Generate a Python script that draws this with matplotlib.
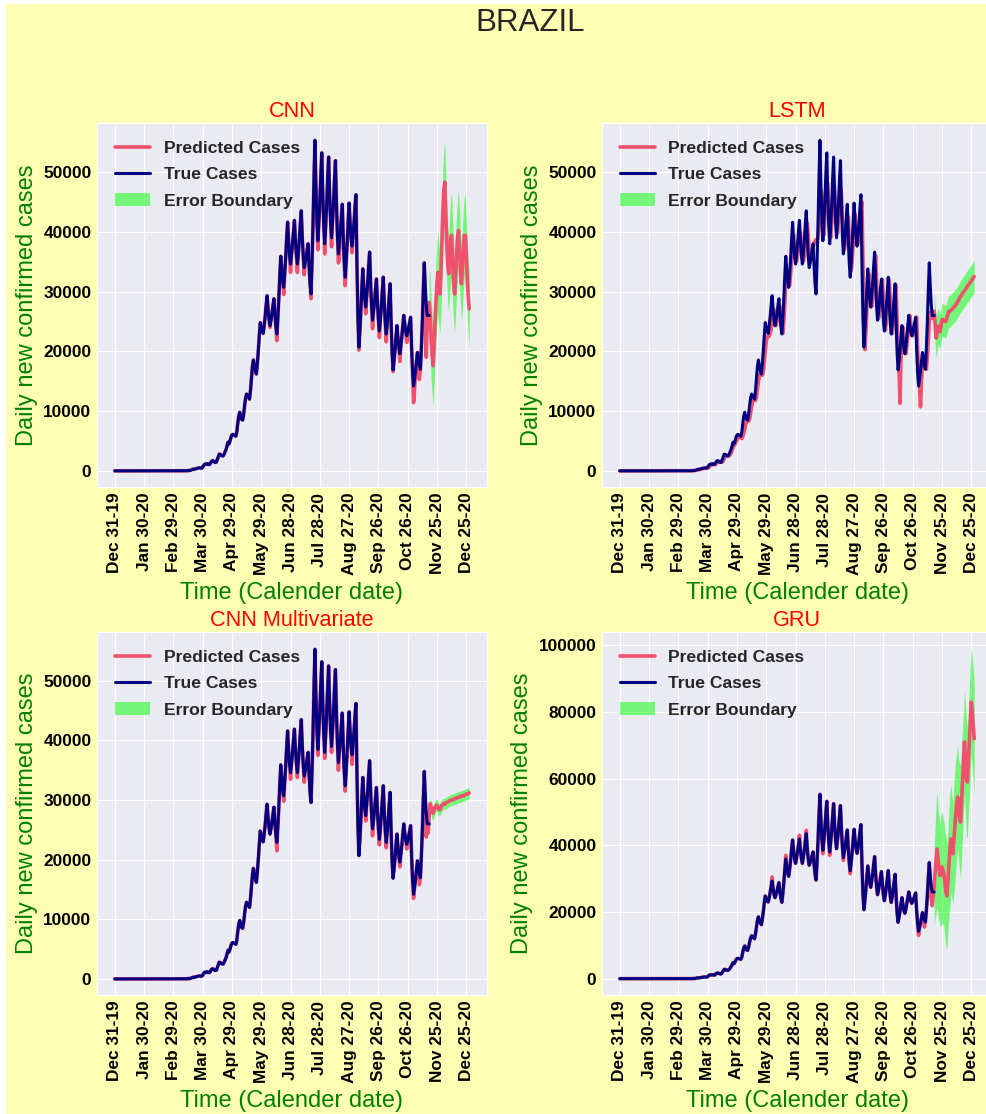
import numpy as np
import matplotlib.pyplot as plt
import seaborn as sns

# ---------------- data ----------------
# x axis: day index starting at Dec 31 2019
tick_days = [0, 30, 60, 90, 120, 150, 180, 210, 240, 270, 300, 330, 360]
tick_labels = ['Dec 31-19', 'Jan 30-20', 'Feb 29-20', 'Mar 30-20', 'Apr 29-20',
               'May 29-20', 'Jun 28-20', 'Jul 28-20', 'Aug 27-20', 'Sep 26-20',
               'Oct 26-20', 'Nov 25-20', 'Dec 25-20']

# true daily new cases, days 0..322 (rows are weeks starting on Sunday)
true_cases = (
    [0] * 54 +
    [0, 0, 0, 1, 0, 0, 1] +                                   # day 54
    [0, 0, 1, 4, 0, 5, 6] +                                   # day 61
    [6, 6, 9, 18, 25, 21, 23] +                               # day 68
    [79, 34, 57, 137, 193, 283, 224] +                        # day 75
    [300, 350, 400, 450, 480, 500, 480] +                     # day 82
    [450, 600, 900, 1100, 1150, 1100, 1200] +                 # day 89
    [1100, 1050, 1300, 1600, 1700, 1650, 1500] +              # day 96
    [1400, 1450, 1900, 2400, 2800, 2750, 2600] +              # day 103
    [2500, 2500, 2800, 3200, 3600, 4200, 4800] +              # day 110
    [4500, 5000, 5600, 6000, 6100, 6000, 5900] +              # day 117
    [5800, 6500, 8000, 9200, 9800, 9000, 8600] +              # day 124
    [8500, 9500, 11000, 12200, 12850, 12500, 12300] +         # day 131
    [12000, 13500, 15500, 17500, 18550, 17500, 16800] +       # day 138
    [16200, 17900, 20100, 22650, 24800, 24000, 23350] +       # day 145
    [23000, 24300, 25800, 27700, 29300, 27100, 25300] +       # day 152
    [24300, 25200, 26300, 27700, 28800, 26100, 24100] +       # day 159
    [22900, 25500, 28800, 32700, 35900, 33600, 31700] +       # day 166
    [30700, 32900, 35600, 38900, 41600, 38500, 36000] +       # day 173
    [34600, 36100, 37900, 40100, 41900, 38600, 36100] +       # day 180
    [34600, 36400, 38600, 41300, 43500, 39200, 35900] +       # day 187
    [34000, 34800, 35800, 37000, 38000, 34200, 31300] +       # day 194
    [29600, 34700, 41200, 48900, 55300, 47700, 41900] +       # day 201
    [38500, 41400, 45100, 49500, 53200, 46400, 41000] +       # day 208
    [38000, 40900, 44500, 48900, 52500, 46400, 41700] +       # day 215
    [39000, 41600, 44800, 48700, 51900, 44900, 39400] +       # day 222
    [36300, 38000, 40000, 42500, 44600, 39100, 34800] +       # day 229
    [32400, 34900, 38000, 41700, 44800, 41600, 39000] +       # day 236
    [37600, 39300, 41500, 44100, 46200, 34700, 25800] +       # day 243
    [20700, 23300, 26600, 30500, 33800, 30900, 28700] +       # day 250
    [27400, 29200, 31500, 34300, 36600, 31500, 27500] +       # day 257
    [25200, 26600, 28300, 30400, 32100, 28200, 25100] +       # day 264
    [23400, 25200, 27500, 30200, 32400, 28100, 24800] +       # day 271
    [22900, 24600, 26700, 29200, 31300, 24800, 19800] +       # day 278
    [16900, 18400, 20200, 22500, 24300, 22200, 20500] +       # day 285
    [19600, 20900, 22500, 24400, 26000, 24500, 23300] +       # day 292
    [22600, 23200, 24000, 24900, 25700, 20500, 16500] +       # day 299
    [14200, 15300, 16700, 18400, 19800, 18500, 17600] +       # day 306
    [17000, 20600, 25000, 30400, 34800, 30800, 27800] +       # day 313
    [26000, 26000, 26000]                                     # day 320
)

# in-sample fit: where the red line shows below/above the blue one (day: value)
cnn_dips = {159: 24000, 166: 21800, 173: 29500, 180: 33200, 187: 33200, 194: 32800,
            201: 28800, 208: 37000, 215: 36300, 222: 37500, 229: 34800, 230: 35500,
            236: 31000, 243: 36500, 250: 20200, 257: 26300, 264: 23800, 271: 22300,
            278: 21600, 285: 16600, 292: 18300, 299: 21500, 306: 11400, 307: 13500,
            311: 15500, 312: 15300, 318: 26800, 319: 19000, 320: 25000, 321: 24000}
cnnm_dips = {166: 21500, 173: 29800, 180: 33500, 187: 33800, 194: 33000, 208: 37500,
             215: 37000, 222: 38000, 229: 35000, 236: 31500, 243: 36000, 257: 26500,
             264: 24000, 271: 22500, 278: 22000, 292: 18800, 299: 21800, 306: 13500,
             312: 15800, 318: 28000, 319: 23800, 320: 25500, 321: 24500}
gru_dips = {156: 30500, 170: 37000, 184: 43000, 191: 44500, 208: 37500, 215: 37000,
            229: 35500, 236: 31500, 306: 13000, 312: 15500, 318: 27000, 319: 24000,
            320: 21900, 321: 25000}

# LSTM fit lags the true curve, days 0..321
lstm_fit = (
    [0] * 54 +
    [0, 0, 0, 0, 0, 0, 0] +
    [0, 0, 0, 1, 2, 2, 3] +
    [4, 5, 6, 8, 12, 16, 20] +
    [25, 40, 50, 70, 100, 150, 200] +
    [200, 260, 300, 340, 380, 420, 450] +
    [470, 460, 520, 700, 900, 1000, 1080] +
    [1100, 1080, 1050, 1200, 1400, 1550, 1600] +
    [1550, 1450, 1450, 1700, 2100, 2450, 2600] +
    [2600, 2500, 2500, 2700, 3000, 3400, 3900] +
    [4300, 4400, 4800, 5200, 5600, 5900, 5900] +
    [5500, 5400, 5700, 6300, 7000, 7800, 8300] +
    [8400, 8300, 8700, 9700, 10700, 11500, 12000] +
    [12000, 11800, 12300, 13600, 15000, 15800, 16300] +
    [16200, 16000, 16500, 18000, 20000, 21500, 22500] +
    [22500, 22500, 23000, 23600, 25500, 27000, 27000] +
    [25000, 24300, 25000, 26000, 27200, 27500, 26000] +
    [24000, 23000, 25000, 28000, 31500, 33500, 33000] +
    [31500, 31000, 33000, 35500, 38500, 39500, 37500] +
    [35500, 35000, 36000, 37500, 39500, 40000, 38000] +
    [36000, 35000, 36000, 38000, 40500, 41500, 39500] +
    [36500, 35000, 35500, 36500, 37500, 38000, 38500] +
    [38700, 38500, 39000, 40400, 44000, 47000, 46000] +
    [42000, 39500, 42000, 45500, 48500, 48000, 44000] +
    [40500, 39000, 41500, 45000, 48000, 47500, 44000] +
    [41000, 39800, 42000, 45000, 47500, 46500, 42500] +
    [39000, 37000, 38000, 40000, 42000, 42500, 39000] +
    [35500, 33500, 35000, 38000, 41500, 43000, 41000] +
    [39500, 38000, 39000, 41500, 44000, 45000, 35500] +
    [26500, 20300, 23000, 26500, 30500, 33000, 31000] +
    [29000, 27500, 29000, 31500, 34000, 36000, 32000] +
    [27500, 25500, 26500, 28300, 30500, 32000, 28500] +
    [25500, 23500, 25000, 27500, 30000, 32000, 28500] +
    [25000, 23000, 24500, 26700, 29200, 31000, 25000] +
    [20000, 16900, 11300, 19000, 22000, 24000, 22500] +
    [20500, 19600, 20900, 22500, 24400, 26000, 24500] +
    [23300, 22600, 23200, 24000, 24900, 25700, 20500] +
    [16500, 14200, 10700, 15000, 18000, 19500, 18500] +
    [17600, 17000, 19000, 22000, 25000, 26500, 26000] +
    [25500, 26400]
)

# forecasts, days 322..363, and the half width of the error band
cnn_forecast = [28200, 26000, 22000, 19500, 17600, 21000, 25000, 28500, 31500, 33200,
                31000, 29600, 33000, 38000, 43500, 47000, 48300, 43000, 38000, 34500,
                33000, 36000, 39000, 39400, 35000, 31500, 29600, 32500, 36000, 39000,
                40200, 37000, 34000, 31300, 34000, 37000, 39400, 39400, 36000, 32000,
                29000, 27100]
cnn_err = [6200, 6500, 6800, 6600, 6700, 6500, 6400, 6800, 7000, 6900, 6600, 6500,
           6700, 6900, 7000, 6800, 6700, 6600, 6500, 6400, 6500, 6700, 6900, 7000,
           6800, 6600, 6500, 6400, 6600, 6800, 6700, 6500, 6300, 6400, 6600, 6800,
           6700, 6500, 6400, 6300, 6400, 6400]

lstm_forecast = [26700, 24500, 22200, 23200, 24200, 23800, 23300, 24300, 25300, 25300,
                 25100, 25000, 25000, 25600, 26200, 26700, 26700, 26800, 27000, 27200,
                 27400, 27500, 27800, 28000, 28300, 28600, 28900, 29200, 29400, 29700,
                 29900, 30100, 30400, 30600, 30900, 31100, 31300, 31600, 31800, 32000,
                 32300, 32500]
lstm_err = [3000, 3200, 3400, 3300, 3100, 3000, 2900, 2800, 2800, 2700, 2700, 2700,
            2700, 2700, 2650, 2650, 2650, 2650, 2650, 2650, 2650, 2650, 2650, 2650,
            2650, 2650, 2650, 2650, 2650, 2650, 2650, 2650, 2650, 2650, 2650, 2700,
            2700, 2700, 2700, 2700, 2700, 2700]

cnnm_forecast = [27500, 29400, 28800, 28000, 27800, 28300, 28800, 29100, 29100, 28700,
                 28400, 28400, 28800, 29100, 29300, 29400, 29300, 29500, 29600, 29700,
                 29800, 29900, 30000, 30000, 30100, 30100, 30200, 30300, 30300, 30400,
                 30500, 30500, 30600, 30600, 30700, 30800, 30800, 30900, 31000, 31000,
                 31100, 31200]
cnnm_err = [900, 1000, 1100, 1200, 1150, 1100, 1050, 1000, 1000, 1050, 1100, 1050,
            1000, 1000, 950, 950, 950, 950, 950, 950, 950, 950, 950, 950, 950, 950,
            950, 950, 950, 950, 950, 950, 950, 950, 950, 950, 950, 950, 950, 950,
            950, 950]

gru_forecast = [28000, 32000, 36000, 38900, 35000, 33000, 30900, 32000, 33500, 32500,
                31200, 28500, 26000, 24800, 29000, 34000, 38500, 41900, 40000, 37500,
                41000, 45000, 49000, 52000, 54500, 51000, 48500, 47000, 53000, 59000,
                65000, 71000, 66000, 60000, 59000, 65000, 71000, 77000, 83000, 80000,
                76000, 72000]
gru_err = [12000, 14000, 16500, 17500, 16000, 15500, 15000, 16500, 17000, 16000,
           15500, 16000, 16500, 16000, 15000, 16000, 17000, 16500, 15500, 15000,
           16000, 17000, 16500, 16000, 15500, 15000, 16000, 17000, 16500, 16000,
           15000, 15500, 16500, 17500, 16500, 15500, 16000, 17000, 16500, 16000,
           16500, 16500]


def fit_from_dips(dips):
    # red line equals the true curve except where it is seen to differ
    fit = list(true_cases[:322])
    for day, val in dips.items():
        fit[day] = val
    return fit


panels = [
    ('CNN', fit_from_dips(cnn_dips), cnn_forecast, cnn_err, 50000),
    ('LSTM', lstm_fit, lstm_forecast, lstm_err, 50000),
    ('CNN Multivariate', fit_from_dips(cnnm_dips), cnnm_forecast, cnnm_err, 50000),
    ('GRU', fit_from_dips(gru_dips), gru_forecast, gru_err, 100000),
]

# ---------------- style ----------------
sns.set_style('darkgrid')
plt.rcParams['font.family'] = ['Liberation Sans', 'DejaVu Sans']

YELLOW = '#ffffb3'
RED = '#f0506e'
BLUE = '#000080'
GREEN = 'lime'

W, H = 986, 1114
fig = plt.figure(figsize=(W / 100, H / 100), dpi=100)
fig.patch.set_facecolor('white')
fig.add_artist(plt.Rectangle((6 / W, 0), 1, 1 - 4 / H, transform=fig.transFigure,
                             facecolor=YELLOW, edgecolor='none', zorder=-10))

# axes boxes in pixels: left, top, right, bottom
boxes = [(97, 123, 487, 487), (602, 123, 992, 487),
         (97, 632, 487, 995), (602, 632, 992, 995)]

for (name, fit, forecast, err, ymax), (l, t, r, b) in zip(panels, boxes):
    ax = fig.add_axes([l / W, 1 - b / H, (r - l) / W, (b - t) / H])
    ax.set_facecolor('#EAEAF2')

    pred = np.array(fit + forecast)
    fx = np.arange(322, 322 + len(forecast))
    lo = np.array(forecast) - np.array(err)
    hi = np.array(forecast) + np.array(err)

    ax.plot(np.arange(len(pred)), pred, color=RED, lw=2.6, label='Predicted Cases', zorder=3)
    ax.plot(np.arange(len(true_cases)), true_cases, color=BLUE, lw=2.2, label='True Cases', zorder=4)
    ax.fill_between(fx, lo, hi, color=GREEN, alpha=0.5, lw=0, label='Error Boundary', zorder=2)

    ax.set_xlim(-18.2, 381.2)
    if ymax == 50000:
        ax.set_ylim(-2700, 58200)
        ax.set_yticks(np.arange(0, 50001, 10000))
    else:
        ax.set_ylim(-4900, 104000)
        ax.set_yticks(np.arange(0, 100001, 20000))

    ax.set_xticks(tick_days)
    ax.set_xticklabels(tick_labels, rotation=90)
    for lab in ax.get_xticklabels() + ax.get_yticklabels():
        lab.set_fontweight('bold')
        lab.set_fontsize(12.4)
        lab.set_color('black')
    ax.tick_params(length=0, pad=4)

    ax.set_title(name, color='red', fontsize=15.6, pad=4)
    ax.set_xlabel('Time (Calender date)', color='green', fontsize=17, labelpad=5)
    ax.set_ylabel('Daily new confirmed cases', color='green', fontsize=17)
    ax.legend(loc='upper left', frameon=False, labelspacing=0.64,
              borderaxespad=0.6, prop={'weight': 'bold', 'size': 12.6})

fig.text(530 / W, 1 - 23 / H, 'BRAZIL', ha='center', va='center',
         fontsize=22.5, color='#262626')

fig.savefig('out.png', dpi=100, facecolor=fig.get_facecolor())
